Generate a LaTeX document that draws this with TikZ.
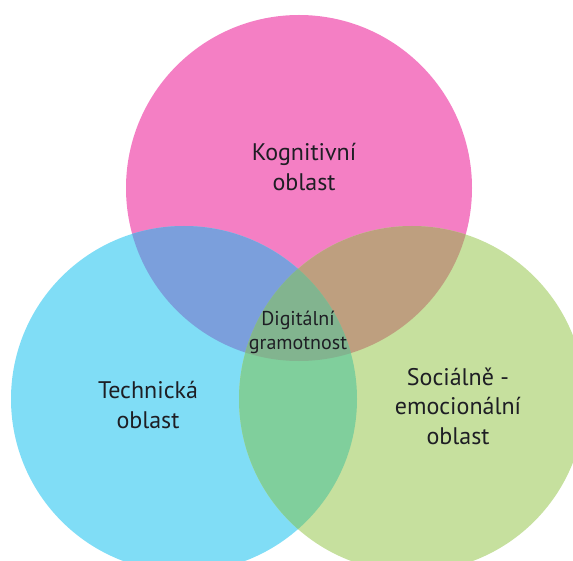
\documentclass[tikz,border=0pt]{standalone}
\usepackage{fontspec}
\setmainfont{PT Sans}
\usetikzlibrary{positioning}
\definecolor{kogn}{HTML}{F47FC4}
\definecolor{tech}{HTML}{80DDF6}
\definecolor{soc}{HTML}{C6E09E}
\definecolor{kogtech}{HTML}{7B9FDC}
\definecolor{kogsoc}{HTML}{BE9F7F}
\definecolor{techsoc}{HTML}{80CF9C}
\definecolor{digi}{HTML}{82B48F}
\definecolor{txt}{HTML}{1E1E24}

\begin{document}
\begin{tikzpicture}[x=1pt,y=-1pt,
    areatext/.style={align=center, text=txt, font=\fontsize{24}{29.5}\selectfont},
    midtext/.style={align=center, text=txt, font=\fontsize{20}{24}\selectfont}]
    \useasboundingbox (0,0) rectangle (573,561);
    \clip (0,0) rectangle (573,561);
    % stredy kruhu
    \coordinate (K) at (299,188);
    \coordinate (T) at (184,399);
    \coordinate (S) at (412,399);
    \def\rad{173pt}
    % kruhy
    \fill[kogn] (K) circle[radius=\rad];
    \fill[tech] (T) circle[radius=\rad];
    \fill[soc] (S) circle[radius=\rad];
    % prekryvy
    \begin{scope}
        \clip (K) circle[radius=\rad];
        \fill[kogtech] (T) circle[radius=\rad];
        \fill[kogsoc] (S) circle[radius=\rad];
    \end{scope}
    \begin{scope}
        \clip (T) circle[radius=\rad];
        \fill[techsoc] (S) circle[radius=\rad];
    \end{scope}
    \begin{scope}
        \clip (K) circle[radius=\rad];
        \clip (T) circle[radius=\rad];
        \fill[digi] (S) circle[radius=\rad];
    \end{scope}
    % popisky
    \node[areatext] (kognitivni) at (304,167) {Kognitivní\\oblast};
    \node[areatext] (technicka) at (148,405) {Technická\\oblast};
    \node[areatext] (socialni) at (458,406) {Sociálně -\\emocionální\\oblast};
    \node[midtext] (digitalni) at (298,332) {Digitální\\gramotnost};
\end{tikzpicture}
\end{document}
